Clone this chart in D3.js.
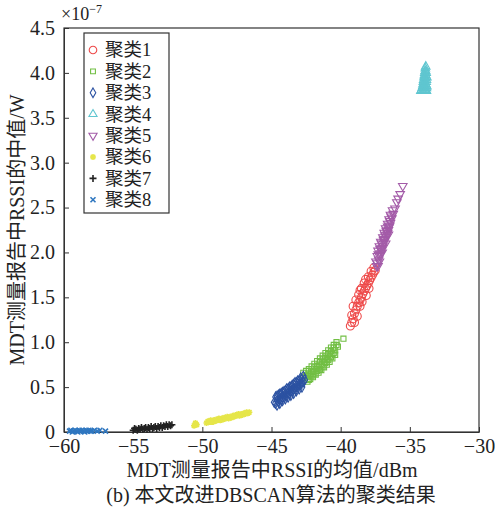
<!DOCTYPE html>
<html>
<head>
<meta charset="utf-8">
<script src="https://d3js.org/d3.v7.min.js"></script>
<style>
  body { margin: 0; background: #fff; }
  svg text { font-family: "Liberation Serif", "Times New Roman", "Noto Sans CJK SC", serif; fill: #222; }
</style>
</head>
<body>
<svg width="495" height="512"></svg>
<script>
// tick values
var xTicks = [-60, -55, -50, -45, -40, -35, -30];
var yTicks = [0, 0.5, 1.0, 1.5, 2.0, 2.5, 3.0, 3.5, 4.0, 4.5];

var names = ['聚类1', '聚类2', '聚类3', '聚类4', '聚类5', '聚类6', '聚类7', '聚类8'];

// points per cluster, [mean RSSI dBm, median RSSI x1e-7 W]
var c1 = [[-39.3,1.18],[-39.2,1.22],[-39.1,1.26],[-39.2,1.30],[-39.0,1.32],[-38.9,1.36],[-39.1,1.40],[-38.8,1.40],
  [-38.7,1.44],[-38.9,1.47],[-38.6,1.47],[-38.5,1.50],[-38.7,1.53],[-38.4,1.54],[-38.3,1.57],[-38.5,1.60],
  [-38.2,1.60],[-38.1,1.63],[-38.3,1.66],[-38.0,1.66],[-37.9,1.69],[-38.0,1.73],[-37.8,1.72],[-37.7,1.75],
  [-37.6,1.78],[-37.8,1.79],[-37.5,1.80],[-37.6,1.83],[-38.6,1.58],[-38.8,1.29],[-39.0,1.22],[-38.2,1.70],
  [-38.45,1.45],[-38.15,1.52],[-37.95,1.60],[-38.6,1.40]];
var c2 = [[-42.6,0.60],[-42.4,0.62],[-42.2,0.64],[-42.0,0.67],[-41.8,0.70],[-41.6,0.72],[-41.4,0.75],[-41.2,0.78],
  [-41.0,0.81],[-40.8,0.84],[-40.6,0.87],[-40.4,0.91],[-40.2,0.95],
  [-42.7,0.66],[-42.5,0.68],[-42.3,0.70],[-42.1,0.73],[-41.9,0.76],[-41.7,0.79],[-41.5,0.82],[-41.3,0.85],
  [-41.1,0.88],[-40.9,0.91],[-40.7,0.94],[-40.5,0.97],[-40.3,1.00],
  [-42.4,0.56],[-42.2,0.59],[-42.0,0.61],[-41.8,0.64],[-41.6,0.66],[-41.4,0.69],[-41.2,0.72],[-41.0,0.75],
  [-40.8,0.78],[-40.6,0.82],[-40.4,0.86],
  [-42.5,0.63],[-42.3,0.66],[-42.1,0.68],[-41.9,0.72],[-41.7,0.74],[-41.5,0.78],[-41.3,0.81],[-41.1,0.84],
  [-40.9,0.87],[-40.7,0.90],[-40.5,0.94],[-40.3,0.97],
  [-42.3,0.58],[-42.1,0.62],[-41.9,0.65],[-41.7,0.68],[-41.5,0.70],[-41.3,0.73],[-41.1,0.77],[-40.9,0.80],
  [-40.7,0.83],[-40.5,0.88],[-39.8,1.04]];
var c3 = [[-44.8,0.33],[-44.6,0.35],[-44.4,0.37],[-44.2,0.39],[-44.0,0.42],[-43.8,0.44],[-43.6,0.46],[-43.4,0.48],
  [-43.2,0.51],[-43.0,0.53],[-42.8,0.55],[-42.6,0.58],
  [-44.7,0.39],[-44.5,0.41],[-44.3,0.43],[-44.1,0.45],[-43.9,0.48],[-43.7,0.50],[-43.5,0.52],[-43.3,0.55],
  [-43.1,0.57],[-42.9,0.60],[-42.7,0.62],
  [-44.6,0.30],[-44.4,0.32],[-44.2,0.35],[-44.0,0.37],[-43.8,0.39],[-43.6,0.41],[-43.4,0.43],[-43.2,0.46],
  [-43.0,0.48],[-42.8,0.50],
  [-44.7,0.32],[-44.5,0.34],[-44.3,0.36],[-44.1,0.39],[-43.9,0.41],[-43.7,0.43],[-43.5,0.46],[-43.3,0.48],
  [-43.1,0.50],[-42.9,0.53],[-42.7,0.56],
  [-44.6,0.40],[-44.4,0.42],[-44.2,0.44],[-44.0,0.46],[-43.8,0.48],[-43.6,0.50],[-43.4,0.53],[-43.2,0.55],
  [-43.0,0.57],[-42.8,0.59]];
var c4 = [[-33.85,4.07],[-33.9,4.02],[-33.85,4.02],[-33.95,3.97],[-33.85,3.97],[-34.0,3.92],[-33.9,3.92],[-33.8,3.92],
  [-34.05,3.87],[-33.95,3.87],[-33.85,3.87],[-34.1,3.83],[-34.0,3.83],[-33.9,3.83],[-33.8,3.83],
  [-34.2,3.80],[-34.05,3.80],[-33.9,3.80],[-33.8,3.80],
  [-33.88,4.05],[-33.92,4.00],[-33.82,4.00],[-33.97,3.95],[-33.87,3.95],[-33.77,3.95],[-34.02,3.90],
  [-33.92,3.90],[-33.82,3.90],[-34.07,3.85],[-33.97,3.85],[-33.87,3.85],[-33.77,3.85],[-34.15,3.81],
  [-33.95,3.81],[-33.85,3.81]];
var c5 = [[-37.4,1.85],[-37.3,1.85],[-37.45,1.90],[-37.25,1.92],[-37.35,1.96],[-37.15,1.97],[-37.3,2.02],[-37.05,2.02],
  [-37.2,2.07],[-36.95,2.07],[-37.1,2.12],[-36.85,2.12],[-36.95,2.17],[-36.7,2.17],[-36.85,2.22],[-36.6,2.22],
  [-36.75,2.27],[-36.5,2.28],[-36.6,2.32],[-36.4,2.33],[-36.5,2.37],[-36.3,2.38],[-36.4,2.42],[-36.2,2.43],
  [-36.25,2.47],[-36.07,2.49],[-35.94,2.56],[-35.85,2.60],[-35.7,2.65],[-35.51,2.74],[-37.0,2.00],[-36.75,2.10],
  [-36.55,2.20],
  [-37.35,1.88],[-37.2,1.90],[-37.28,1.98],[-37.1,1.99],[-37.15,2.04],[-37.0,2.05],[-37.05,2.10],[-36.9,2.10],
  [-36.9,2.14],[-36.8,2.15],[-36.8,2.19],[-36.65,2.20],[-36.7,2.24],[-36.55,2.25],[-36.6,2.29],[-36.45,2.30],
  [-36.45,2.35],[-36.35,2.40]];
var c6 = [[-50.6,0.07],[-50.5,0.10],[-50.4,0.08],[-50.5,0.08],
  [-49.7,0.10],[-49.6,0.12],[-49.5,0.11],[-49.4,0.13],[-49.3,0.11],[-49.2,0.13],[-49.1,0.12],[-49.0,0.14],
  [-48.9,0.13],[-48.8,0.15],[-48.7,0.13],[-48.6,0.15],[-48.5,0.14],[-48.4,0.16],[-48.3,0.15],[-48.2,0.17],
  [-48.1,0.15],[-48.0,0.17],[-47.9,0.16],[-47.8,0.18],[-47.7,0.17],[-47.6,0.19],[-47.5,0.18],[-47.4,0.20],
  [-47.3,0.18],[-47.2,0.20],[-47.1,0.19],[-47.0,0.21],[-46.9,0.20],[-46.8,0.22],[-46.7,0.21],[-46.6,0.22]];
var c7 = [[-55.0,0.02],[-54.9,0.04],[-54.8,0.03],[-54.7,0.02],[-54.6,0.04],[-54.5,0.03],[-54.4,0.05],[-54.3,0.03],
  [-54.2,0.04],[-54.1,0.05],[-54.0,0.03],[-53.9,0.05],[-53.8,0.04],[-53.7,0.06],[-53.6,0.04],[-53.5,0.05],
  [-53.4,0.06],[-53.3,0.04],[-53.2,0.06],[-53.1,0.05],[-53.0,0.07],[-52.9,0.05],[-52.8,0.07],[-52.7,0.06],
  [-52.6,0.08],[-52.5,0.06],[-52.4,0.08],[-52.3,0.07],[-52.2,0.08]];
var c8 = [[-59.6,0.01],[-59.5,0.02],[-59.4,0.00],[-59.3,0.01],[-59.2,0.02],[-59.1,0.01],[-59.0,0.00],[-58.9,0.02],
  [-58.8,0.01],[-58.7,0.02],[-58.6,0.01],[-58.5,0.00],[-58.4,0.02],[-58.3,0.01],[-58.2,0.02],[-58.1,0.01],
  [-58.0,0.01],[-57.8,0.02],[-57.6,0.01],[-57.4,0.02],[-57.0,0.01]];

var clusters = [c1, c2, c3, c4, c5, c6, c7, c8];
var colors = ['#ee4a4a', '#72bf44', '#2c52a2', '#5fc6d0', '#a35ba8', '#e6e64a', '#222222', '#2f77c0'];

var svg = d3.select('svg');
var mLeft = 64, mRight = 479, mTop = 28, mBottom = 432;

var x = d3.scaleLinear().domain([-60, -30]).range([mLeft, mRight]);
var y = d3.scaleLinear().domain([0, 4.5]).range([mBottom, mTop]);

// marker shapes
function shape(i, s) {
  s = s || 1;
  if (i == 0) return d3.symbol().type(d3.symbolCircle).size(50 * s)();
  if (i == 1) return d3.symbol().type(d3.symbolSquare).size(26 * s)();
  if (i == 2) return d3.symbol().type(d3.symbolDiamond).size(30 * s)();
  if (i == 3) return d3.symbol().type(d3.symbolTriangle).size(32 * s)();
  if (i == 4) return d3.symbol().type(d3.symbolTriangle).size(32 * s)();
  if (i == 5) return 'M-3,0H3M0,-3V3M-2.2,-2.2L2.2,2.2M-2.2,2.2L2.2,-2.2';
  if (i == 6) return 'M-3.5,0H3.5M0,-3.5V3.5';
  return 'M-2.5,-2.5L2.5,2.5M-2.5,2.5L2.5,-2.5';
}
function rot(i) { return i == 4 ? ' rotate(180)' : ''; }

// axes
var xAxis = d3.axisBottom(x).tickValues(xTicks).tickSizeInner(-5).tickSizeOuter(0).tickPadding(7)
  .tickFormat(function (d) { return d < 0 ? '\u2212' + Math.abs(d) : d; });
var yAxis = d3.axisLeft(y).tickValues(yTicks).tickSizeInner(-5).tickSizeOuter(0).tickPadding(9)
  .tickFormat(function (d) { return d == 0 ? '0' : d3.format('.1f')(d); });

var gx = svg.append('g').attr('transform', 'translate(0,' + mBottom + ')').call(xAxis);
var gy = svg.append('g').attr('transform', 'translate(' + mLeft + ',0)').call(yAxis);
[gx, gy].forEach(function (g) {
  g.attr('font-family', null);
  g.selectAll('text').style('font-size', '20px').attr('fill', '#222');
  g.selectAll('line').attr('stroke', '#333');
  g.select('.domain').attr('stroke', '#333');
});

svg.append('rect').attr('x', mLeft).attr('y', mTop).attr('width', mRight - mLeft).attr('height', mBottom - mTop)
  .attr('fill', 'none').attr('stroke', '#333').attr('stroke-width', 1.2);

// points
clusters.forEach(function (pts, i) {
  svg.append('g').selectAll('path').data(pts).enter().append('path')
    .attr('d', shape(i))
    .attr('transform', function (d) { return 'translate(' + x(d[0]) + ',' + y(d[1]) + ')' + rot(i); })
    .attr('fill', 'none')
    .attr('stroke', colors[i])
    .attr('stroke-width', i >= 5 ? 1.6 : 1.1);
});

// legend
var lg = svg.append('g');
lg.append('rect').attr('x', 84).attr('y', 33).attr('width', 85).attr('height', 180)
  .attr('fill', '#fff').attr('stroke', '#333').attr('stroke-width', 1.2);
names.forEach(function (n, i) {
  var yy = 50 + i * 21.4;
  lg.append('path').attr('d', shape(i, 0.9))
    .attr('transform', 'translate(93,' + yy + ')' + rot(i))
    .attr('fill', 'none').attr('stroke', colors[i]).attr('stroke-width', i >= 5 ? 1.6 : 1.1);
  lg.append('text').attr('x', 105).attr('y', yy).attr('dy', '0.35em').style('font-size', '18.5px').text(n);
});

// exponent
var ex = svg.append('text').attr('x', 61).attr('y', 20).style('font-size', '18px');
ex.append('tspan').text('\u00d710');
ex.append('tspan').attr('dy', -7).style('font-size', '12px').text('\u22127');

// axis titles
svg.append('text').attr('x', 272).attr('y', 477).attr('text-anchor', 'middle').style('font-size', '20px')
  .text('MDT测量报告中RSSI的均值/dBm');
svg.append('text').attr('transform', 'translate(24,230) rotate(-90)').attr('text-anchor', 'middle')
  .style('font-size', '20px').text('MDT测量报告中RSSI的中值/W');
svg.append('text').attr('x', 271).attr('y', 502).attr('text-anchor', 'middle').style('font-size', '20px')
  .text('(b) 本文改进DBSCAN算法的聚类结果');
</script>
</body>
</html>
